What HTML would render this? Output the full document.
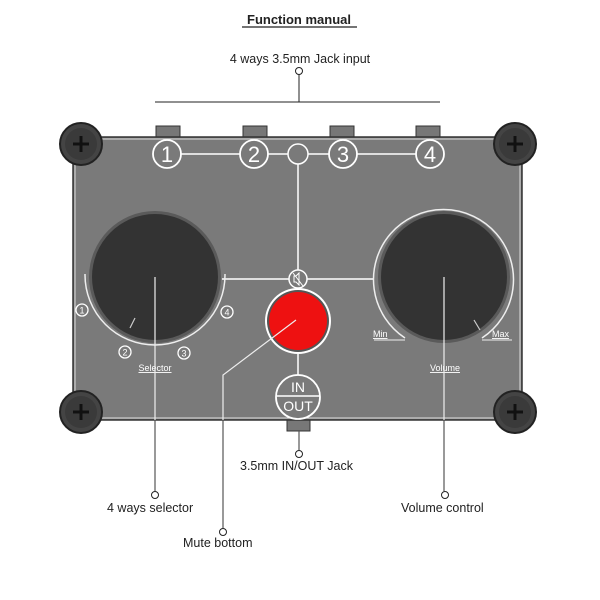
<!DOCTYPE html>
<html><head><style>body{margin:0;background:#fff}svg{display:block}</style></head><body>
<svg width="600" height="600" viewBox="0 0 600 600" xmlns="http://www.w3.org/2000/svg" font-family="Liberation Sans, sans-serif">
<defs><clipPath id="cb"><rect x="0" y="274" width="600" height="200"/></clipPath></defs>
<text x="299" y="24" text-anchor="middle" font-size="13" font-weight="bold" fill="#222">Function manual</text>
<line x1="242" y1="27" x2="357" y2="27" stroke="#222" stroke-width="1.2"/>
<text x="300" y="63" text-anchor="middle" font-size="12.5" fill="#222">4 ways 3.5mm Jack input</text>
<circle cx="299" cy="71" r="3.5" fill="#fff" stroke="#222"/>
<line x1="299" y1="74.5" x2="299" y2="102" stroke="#222"/>
<line x1="155" y1="102" x2="440" y2="102" stroke="#222"/>
<g fill="#777" stroke="#333">
<rect x="156" y="126" width="24" height="11"/><rect x="243" y="126" width="24" height="11"/>
<rect x="330" y="126" width="24" height="11"/><rect x="416" y="126" width="24" height="11"/>
<rect x="287" y="420" width="23" height="11"/>
</g>
<rect x="73" y="137" width="449" height="283" fill="#7a7a7a" stroke="#333" stroke-width="1.5"/>
<rect x="75" y="139" width="445" height="279" fill="none" stroke="#ddd" stroke-width="1"/>
<g>
<circle cx="81" cy="144" r="21" fill="#444" stroke="#222" stroke-width="2"/><circle cx="81" cy="144" r="16" fill="#3a3a3a"/>
<circle cx="515" cy="144" r="21" fill="#444" stroke="#222" stroke-width="2"/><circle cx="515" cy="144" r="16" fill="#3a3a3a"/>
<circle cx="81" cy="412" r="21" fill="#444" stroke="#222" stroke-width="2"/><circle cx="81" cy="412" r="16" fill="#3a3a3a"/>
<circle cx="515" cy="412" r="21" fill="#444" stroke="#222" stroke-width="2"/><circle cx="515" cy="412" r="16" fill="#3a3a3a"/>
</g>
<g stroke="#111" stroke-width="3">
<path d="M73 144h16M81 136v16M507 144h16M515 136v16M73 412h16M81 404v16M507 412h16M515 404v16"/>
</g>
<g stroke="#fff" stroke-width="1.5" fill="none">
<line x1="181" y1="154" x2="240" y2="154"/><line x1="268" y1="154" x2="288" y2="154"/>
<line x1="308" y1="154" x2="329" y2="154"/><line x1="357" y1="154" x2="416" y2="154"/>
<line x1="298" y1="164" x2="298" y2="270"/>
<line x1="222" y1="279" x2="289" y2="279"/><line x1="307" y1="279" x2="373" y2="279"/>
<circle cx="298" cy="154" r="10"/>
</g>
<g fill="none" stroke="#fff" stroke-width="1.8">
<circle cx="167" cy="154" r="14"/><circle cx="254" cy="154" r="14"/><circle cx="343" cy="154" r="14"/><circle cx="430" cy="154" r="14"/>
</g>
<g fill="#fff" font-size="22" text-anchor="middle">
<text x="167" y="162">1</text><text x="254" y="162">2</text><text x="343" y="162">3</text><text x="430" y="162">4</text>
</g>
<circle cx="155" cy="275" r="70" fill="none" stroke="#eee" stroke-width="1.5" clip-path="url(#cb)"/>
<circle cx="155" cy="277" r="66" fill="#5a5a5a"/>
<circle cx="155" cy="277" r="63" fill="#333"/>
<line x1="130" y1="328" x2="135" y2="318" stroke="#ccc" stroke-width="1.2"/>
<g fill="none" stroke="#fff" stroke-width="1.3">
<circle cx="82" cy="310" r="6"/><circle cx="125" cy="352" r="6"/><circle cx="184" cy="353" r="6"/><circle cx="227" cy="312" r="6"/>
</g>
<g fill="#fff" font-size="9" text-anchor="middle">
<text x="82" y="313.5">1</text><text x="125" y="355.5">2</text><text x="184" y="356.5">3</text><text x="227" y="315.5">4</text>
</g>
<text x="155" y="371" text-anchor="middle" font-size="9" fill="#fff" text-decoration="underline">Selector</text>
<path d="M405 338 A70 70 0 1 1 482 338" fill="none" stroke="#eee" stroke-width="1.5"/>
<path d="M374 340 H405 M482 340 H512" stroke="#eee" stroke-width="1"/>
<circle cx="444" cy="277" r="66" fill="#5a5a5a"/>
<circle cx="444" cy="277" r="63" fill="#333"/>
<line x1="474" y1="320" x2="480" y2="330" stroke="#ccc" stroke-width="1.2"/>
<text x="373" y="337" font-size="9" fill="#fff" text-decoration="underline">Min</text>
<text x="492" y="337" font-size="9" fill="#fff" text-decoration="underline">Max</text>
<text x="445" y="371" text-anchor="middle" font-size="9" fill="#fff" text-decoration="underline">Volume</text>
<circle cx="298" cy="279" r="9" fill="#7a7a7a" stroke="#fff" stroke-width="1.5"/>
<path d="M294 276h2l3-3v12l-3-3h-2z" fill="none" stroke="#fff" stroke-width="1"/>
<line x1="293" y1="273" x2="303" y2="286" stroke="#fff" stroke-width="1"/>
<circle cx="298" cy="321" r="33" fill="#fff"/>
<circle cx="298" cy="321" r="31" fill="#555"/>
<circle cx="298" cy="321" r="29" fill="#ee1111"/>
<line x1="298" y1="354" x2="298" y2="375" stroke="#fff" stroke-width="1.5"/>
<circle cx="298" cy="397" r="22" fill="#7a7a7a" stroke="#fff" stroke-width="1.8"/>
<line x1="276" y1="396" x2="320" y2="396" stroke="#fff" stroke-width="1.5"/>
<text x="298" y="392" text-anchor="middle" font-size="14" fill="#fff">IN</text>
<text x="298" y="411" text-anchor="middle" font-size="14" fill="#fff">OUT</text>
<g stroke="#eee" stroke-width="1.2">
<line x1="155" y1="277" x2="155" y2="420"/><line x1="444" y1="277" x2="444" y2="420"/>
<polyline points="296,320 223,375 223,420" fill="none"/>
</g>
<g stroke="#555" stroke-width="1.2" fill="none">
<line x1="155" y1="420" x2="155" y2="491"/><line x1="444" y1="420" x2="444" y2="491"/>
<line x1="223" y1="420" x2="223" y2="528"/><line x1="299" y1="431" x2="299" y2="450"/>
</g>
<g fill="#fff" stroke="#222">
<circle cx="155" cy="495" r="3.5"/><circle cx="445" cy="495" r="3.5"/><circle cx="223" cy="532" r="3.5"/><circle cx="299" cy="454" r="3.5"/>
</g>
<g font-size="12.5" fill="#222">
<text x="107" y="512">4 ways selector</text>
<text x="401" y="512">Volume control</text>
<text x="183" y="547">Mute bottom</text>
<text x="240" y="470">3.5mm  IN/OUT Jack</text>
</g>
</svg>
</body></html>
